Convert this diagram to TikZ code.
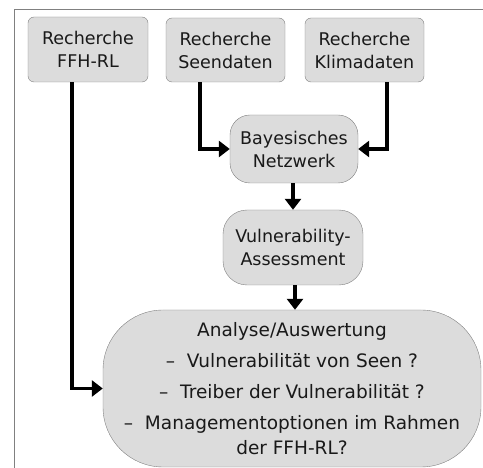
\documentclass[tikz,border=0pt]{standalone}
\usepackage{fontspec}
\setmainfont{DejaVu Sans}
\usetikzlibrary{arrows.meta}
\definecolor{boxfill}{HTML}{DCDCDC}
\definecolor{boxline}{HTML}{808080}
\tikzset{
	stepbox/.style={draw=boxline, fill=boxfill, rounded corners=6pt, inner sep=0pt, align=center, text=black!90, font=\fontsize{17.5}{23}\selectfont},
	flow/.style={line width=3.2pt, -{Triangle[length=11pt,width=16pt]}}
}
\begin{document}
\begin{tikzpicture}[x=1pt,y=-1pt]
	\useasboundingbox (0,0) rectangle (483,468);
	\draw[boxline, line width=0.9pt] (14,468)--(14,9)--(483,9);
	
	\node[stepbox, minimum width=120pt, minimum height=65pt] (ffh) at (88,49.5) {Recherche\\FFH-RL};
	\node[stepbox, minimum width=119pt, minimum height=64pt] (seen) at (225.5,50) {Recherche\\Seendaten};
	\node[stepbox, minimum width=119pt, minimum height=64pt] (klima) at (364.5,50) {Recherche\\Klimadaten};
	
	\node[stepbox, rounded corners=20pt, minimum width=128pt, minimum height=68pt] (bayes) at (294,149) {Bayesisches\\Netzwerk};
	\node[stepbox, rounded corners=24pt, minimum width=140pt, minimum height=75pt] (vuln) at (293,247.5) {Vulnerability-\\Assessment};
	\node[stepbox, rounded corners=60pt, minimum width=378pt, minimum height=157pt, font=\fontsize{18.5}{25}\selectfont] (analyse) at (292,388.5)
		{Analyse/Auswertung\\[6pt] – \ Vulnerabilität von Seen ?\\[6pt] – \ Treiber der Vulnerabilität ?\\[6pt] – \ Managementoptionen im Rahmen\\ der FFH-RL?};
	
	\draw[flow] ([xshift=-25.5pt]seen.south) |- (bayes.west);
	\draw[flow] ([xshift=22.5pt]klima.south) |- (bayes.east);
	\draw[flow] ([xshift=-1pt]bayes.south) -- ([xshift=-1pt]bayes.south |- vuln.north);
	\draw[flow] ([xshift=2pt]vuln.south) -- ([xshift=2pt]vuln.south |- analyse.north);
	\draw[flow] ([xshift=-16pt]ffh.south) |- (analyse.west);
\end{tikzpicture}
\end{document}
